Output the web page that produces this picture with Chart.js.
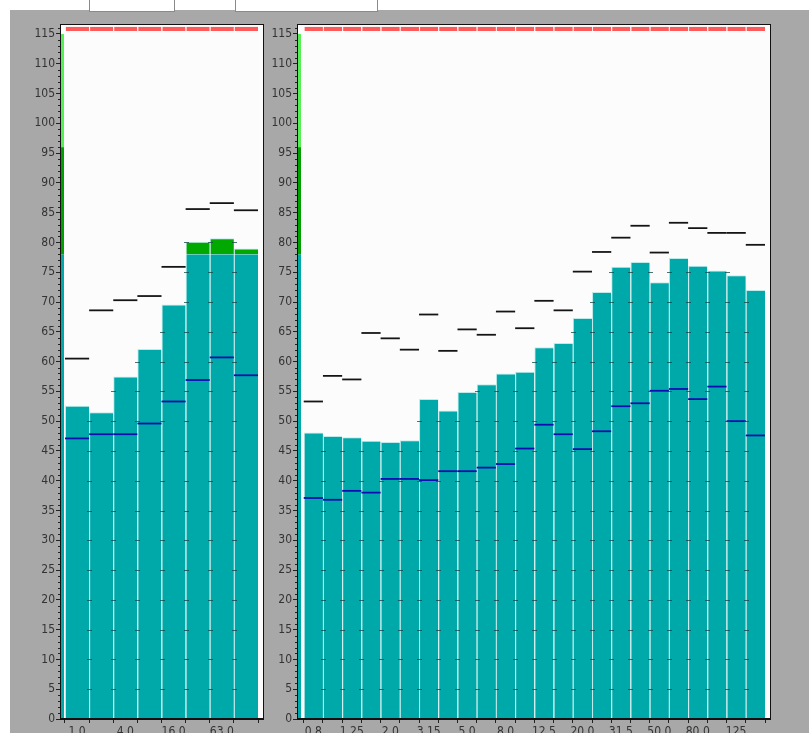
<!DOCTYPE html>
<html>
<head>
<meta charset="utf-8">
<script src="https://cdn.jsdelivr.net/npm/chart.js@4.4.1/dist/chart.umd.min.js"></script>
<style>
  body { margin: 0; background: #fff; width: 809px; height: 733px; overflow: hidden; position: relative; }
  #bg { position: absolute; left: 10px; top: 10px; right: 0; bottom: 0; background: #a8a8a8; }
  .tab { position: absolute; top: -2px; height: 13px; background: #fff; border: 1px solid #8a8a8a; border-top: none; }
  canvas { position: absolute; top: 0; }
</style>
</head>
<body>
<div id="bg"></div>
<div class="tab" style="left:89px;width:84px"></div>
<div class="tab" style="left:235px;width:141px"></div>
<canvas id="left" width="270" height="733" style="left:0"></canvas>
<canvas id="right" width="539" height="733" style="left:270px"></canvas>
<script>
// octave bands (left) and third-octave bands (right), Hz
const leftLabels = ["1.0", "2.0", "4.0", "8.0", "16.0", "31.5", "63.0", "125"];
const leftLevels = [52.6, 51.5, 57.5, 62.1, 69.6, 80.1, 80.7, 79.0];
const leftMax = [60.5, 68.6, 70.3, 71.0, 75.9, 85.6, 86.6, 85.4];
const leftMin = [47.1, 47.8, 47.8, 49.6, 53.3, 56.9, 60.7, 57.7];

const rightLabels = ["0.8", "1.0", "1.25", "1.6", "2.0", "2.5", "3.15", "4.0", "5.0", "6.3", "8.0", "10.0",
                     "12.5", "16.0", "20.0", "25.0", "31.5", "40.0", "50.0", "63.0", "80.0", "100", "125", "160"];
const rightLevels = [48.1, 47.5, 47.3, 46.7, 46.5, 46.8, 53.7, 51.8, 54.9, 56.2, 58.0, 58.3,
                     62.4, 63.1, 67.3, 71.7, 75.9, 76.7, 73.3, 77.4, 76.1, 75.3, 74.5, 72.0];
const rightMax = [53.3, 57.6, 57.0, 64.8, 63.9, 62.0, 67.9, 61.8, 65.4, 64.5, 68.4, 65.6,
                  70.2, 68.6, 75.1, 78.4, 80.8, 82.8, 78.3, 83.3, 82.4, 81.6, 81.6, 79.6];
const rightMin = [37.1, 36.8, 38.3, 38.0, 40.3, 40.3, 40.1, 41.6, 41.6, 42.2, 42.8, 45.4,
                  49.4, 47.8, 45.3, 48.3, 52.5, 53.0, 55.1, 55.4, 53.7, 55.8, 50.0, 47.6];

const limit = 78;              // level above which bars turn green
const zones = [0, 78, 96, 115]; // axis colour strip: teal / dark green / light green
const overload = [115.5, 116.2];
const yMax = 116.5;

const TEAL = "#00a9a9";
const GREEN = "#00a800";

Chart.defaults.font.family = "'Liberation Sans Narrow', 'DejaVu Sans Condensed', sans-serif";
Chart.defaults.font.size = 12;
Chart.defaults.color = "#333";

// background, frame, axis colour strip, minor ticks, grid marks
const panelPlugin = {
    id: "panel",
    beforeDraw(chart) {
        const a = chart.chartArea, c = chart.ctx;
        c.save();
        c.fillStyle = "#fcfcfc";
        c.fillRect(a.left, a.top, a.right - a.left, a.bottom - a.top);
        c.restore();
    },
    afterDatasetsDraw(chart) {
        const a = chart.chartArea, c = chart.ctx;
        const x = chart.scales.x, y = chart.scales.y;
        const levels = chart.options.plugins.panel.levels;
        c.save();
        // small dark marks where bar edges cross the 5-unit grid
        c.fillStyle = "rgba(20,70,70,0.75)";
        for (let i = 1; i < levels.length; i++) {
            const px = Math.round(x.getPixelForValue(i - 0.5));
            const top = Math.max(levels[i - 1], levels[i]);
            for (let v = 5; v < top; v += 5) {
                c.fillRect(px - 2, Math.round(y.getPixelForValue(v)), 5, 1);
            }
        }
        // colour strip next to the y axis
        const cols = [TEAL, "#00a000", "#55ee55"];
        for (let k = 0; k < 3; k++) {
            const y0 = y.getPixelForValue(zones[k]), y1 = y.getPixelForValue(zones[k + 1]);
            c.fillStyle = cols[k];
            c.fillRect(a.left + 1, y1, 3, y0 - y1);
        }
        // frame
        c.strokeStyle = "#111";
        c.lineWidth = 1;
        c.strokeRect(Math.round(a.left) + 0.5, Math.round(a.top) - 0.5, Math.round(a.right - a.left), Math.round(a.bottom - a.top));
        // minor ticks
        c.fillStyle = "#222";
        for (let v = 1; v <= 116; v++) {
            if (v % 5 === 0) continue;
            c.fillRect(a.left - 2, Math.round(y.getPixelForValue(v)), 2, 1);
        }
        c.restore();
    }
};

function makeChart(id, labels, levels, maxs, mins, xmin, xmax, yWidth, padRight) {
    const n = labels.length;
    const teal = levels.map((v, i) => ({ x: i, y: [0, Math.min(v, limit)] }));
    const green = levels.map((v, i) => ({ x: i, y: [limit, v] })).filter(d => d.y[1] > limit);
    const hi = maxs.map((v, i) => ({ x: i, y: [v - 0.15, v + 0.15] }));
    const lo = mins.map((v, i) => ({ x: i, y: [v - 0.15, v + 0.15] }));
    const red = levels.map((v, i) => ({ x: i, y: overload }));

    const barBorder = { left: 1, top: 1, right: 0, bottom: 0 };
    // no light top edge where the green part continues the bar
    const tealBorder = ctx => ({ left: 1, top: levels[ctx.dataIndex] > limit ? 0 : 1, right: 0, bottom: 0 });

    return new Chart(document.getElementById(id), {
        type: "bar",
        data: {
            datasets: [
                { data: hi, backgroundColor: "#141414", order: 0 },
                { data: lo, backgroundColor: "#0c0cb0", order: 0 },
                { data: red, backgroundColor: "#ff5a5a", borderColor: "#ffe4e4", borderWidth: { left: 1 }, order: 1 },
                { data: green, backgroundColor: GREEN, borderColor: "#bfeaea", borderWidth: barBorder, order: 1 },
                { data: teal, backgroundColor: TEAL, borderColor: "#bfeaea", borderWidth: tealBorder, order: 1 }
            ]
        },
        options: {
            responsive: false,
            animation: false,
            devicePixelRatio: 1,
            datasets: {
                // x ticks sit at half steps, so the min spacing seen by the bar ruler is half a band
                bar: { grouped: false, barPercentage: 1, categoryPercentage: 2, borderSkipped: false }
            },
            layout: { padding: { left: 0, top: 25, right: padRight, bottom: 0 } },
            plugins: {
                legend: { display: false },
                tooltip: { enabled: false },
                panel: { levels: levels }
            },
            scales: {
                x: {
                    type: "linear",
                    min: xmin,
                    max: xmax,
                    offset: false,
                    afterBuildTicks(scale) {
                        const t = [];
                        for (let i = 0; i < n; i++) {
                            t.push({ value: i - 0.5 });
                            t.push({ value: i });
                        }
                        t.push({ value: n - 0.5 });
                        scale.ticks = t;
                    },
                    afterFit(scale) { scale.height = 14; },
                    ticks: {
                        autoSkip: false,
                        maxRotation: 0,
                        padding: 2,
                        callback: v => (Number.isInteger(v) && v % 2 === 0) ? labels[v] : ""
                    },
                    grid: {
                        offset: false,
                        drawOnChartArea: false,
                        tickLength: 4,
                        tickColor: ctx => (ctx.tick && !Number.isInteger(ctx.tick.value)) ? "#222" : "rgba(0,0,0,0)"
                    },
                    border: { color: "#111" }
                },
                y: {
                    min: 0,
                    max: yMax,
                    afterFit(scale) { scale.width = yWidth; },
                    ticks: { stepSize: 5, includeBounds: false, padding: 1 },
                    grid: { drawOnChartArea: false, tickLength: 4, tickColor: "#222" },
                    border: { color: "#111" }
                }
            }
        },
        plugins: [panelPlugin]
    });
}

makeChart("left", leftLabels, leftLevels, leftMax, leftMin, -0.707, 7.707, 60, 7);
makeChart("right", rightLabels, rightLevels, rightMax, rightMin, -0.85, 23.76, 27, 39);
</script>
</body>
</html>
